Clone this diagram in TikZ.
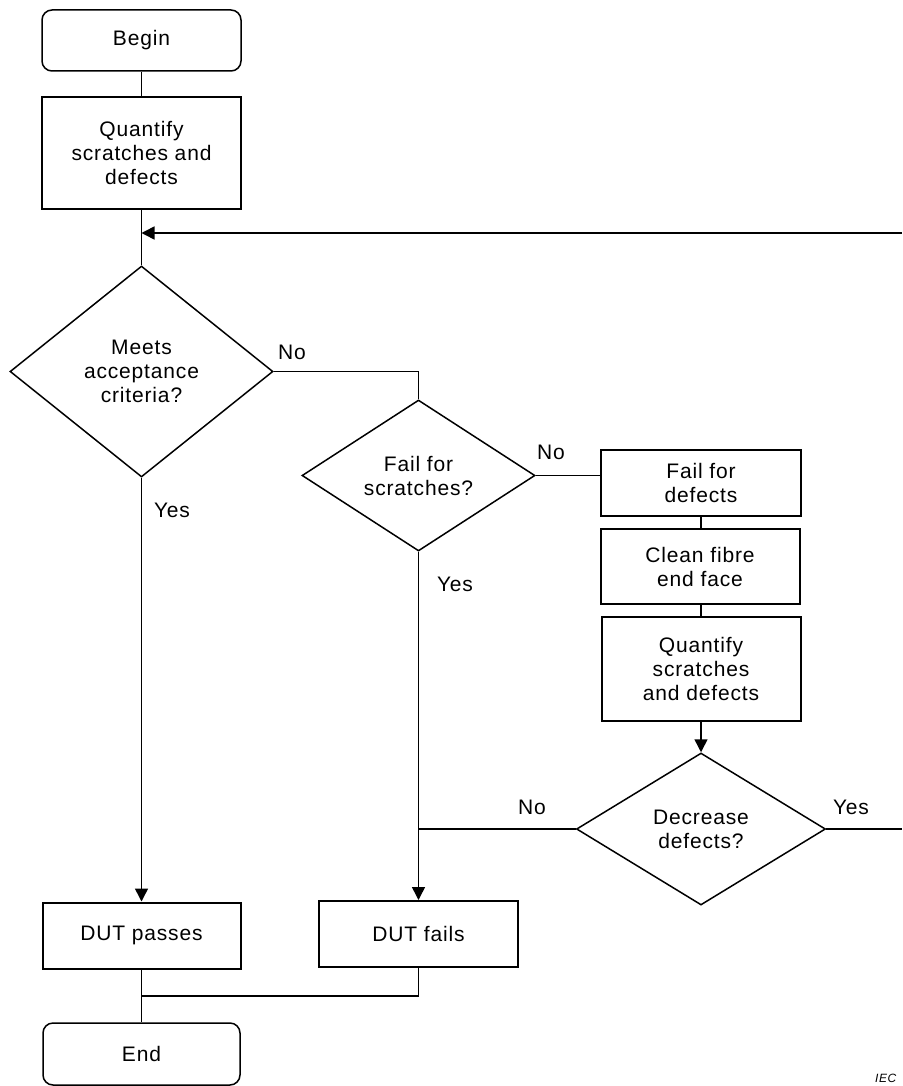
\documentclass[tikz,border=0pt]{standalone}
\usepackage{fontspec}
\setmainfont{Liberation Sans}[LetterSpace=4.0]
\usetikzlibrary{shapes.geometric,arrows.meta}
\begin{document}
\begin{tikzpicture}[x=1pt,y=-1pt,
  every node/.style={font=\fontsize{21}{24}\selectfont},
  flow/.style={line width=1.5pt},
  arr/.style={flow,-{Triangle[length=13pt,width=13pt]}},
  procbox/.style={draw,line width=2pt,align=center,inner sep=0pt},
  termbox/.style={draw,line width=1.5pt,rounded corners=10pt,align=center,inner sep=0pt,minimum width=199pt,minimum height=61pt},
  decision/.style={draw,diamond,line width=1.5pt,align=center,inner sep=0pt},
  lbl/.style={inner sep=0pt}]
\useasboundingbox (0,0) rectangle (902,1086);
% nodes
\node[termbox] (begin) at (141.5,40.5) {\raisebox{5pt}{Begin}};
\node[procbox,minimum width=199pt,minimum height=112pt] (q1) at (141.5,153) {Quantify\\scratches and\\defects};
\node[decision,minimum width=263pt,minimum height=211pt] (d1) at (141.5,371.5) {Meets\\acceptance\\criteria?};
\node[decision,minimum width=233pt,minimum height=151pt] (d2) at (418.5,475.5) {Fail for\\scratches?};
\node[procbox,minimum width=200pt,minimum height=66pt] (ffd) at (701,483) {Fail for\\defects};
\node[procbox,minimum width=199pt,minimum height=75pt] (clean) at (700,566.5) {Clean fibre\\end face};
\node[procbox,minimum width=199pt,minimum height=104pt] (q2) at (701,669) {Quantify\\scratches\\and defects};
\node[decision,minimum width=249pt,minimum height=152pt] (d3) at (701,829) {Decrease\\defects?};
\node[procbox,minimum width=198pt,minimum height=66pt] (dutp) at (141.5,935.5) {DUT passes};
\node[procbox,minimum width=199pt,minimum height=66pt] (dutf) at (418.5,934) {DUT fails};
\node[termbox,minimum width=197pt,minimum height=62pt] (end) at (141.5,1054) {End};
% labels
\node[lbl] (lno1) at (292,352) {No};
\node[lbl] (lyes1) at (172,510) {Yes};
\node[lbl] (lno2) at (551,452) {No};
\node[lbl] (lyes2) at (455,584) {Yes};
\node[lbl] (lno3) at (532,807) {No};
\node[lbl] (lyes3) at (851,807) {Yes};
\node[lbl,anchor=west,font=\fontsize{12}{14}\selectfont\itshape] (iec) at (875,1078) {IEC};
% coordinates
\coordinate (loopR) at (902,233);
\coordinate (exitR) at (902,829);
\coordinate (join) at (141.5,996);
% connectors
\draw[flow] (begin) -- (q1);
\draw[flow] (q1) -- (d1);
\draw[arr] (loopR) -- (q1.south |- loopR);
\draw[flow] (d1.east) -| (d2.north);
\draw[flow] (d2.east) -- (ffd.west |- d2.east);
\draw[flow] (ffd.south) -- (ffd.south |- clean.north);
\draw[flow] (clean.south -| q2.north) -- (q2.north);
\draw[arr] (q2) -- (d3.north);
\draw[flow] (d3.west) -- (d2.south |- d3.west);
\draw[flow] (d3.east) -- (exitR);
\draw[arr] (d1.south) -- (dutp.north);
\draw[arr] (d2.south) -- (dutf.north);
\draw[flow] (dutp.south) -- (dutp.south |- join) -- (dutf.south |- join) -- (dutf.south);
\draw[flow] (dutp.south |- join) -- (end.north);
\end{tikzpicture}
\end{document}
